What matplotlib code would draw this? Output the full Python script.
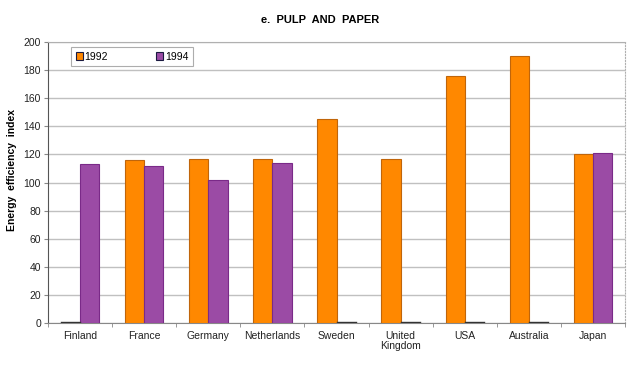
import numpy as np
import matplotlib
matplotlib.use("Agg")
from matplotlib import pyplot as plt
from matplotlib import font_manager

countries = ["Finland", "France", "Germany", "Netherlands", "Sweden",
             "United\nKingdom", "USA", "Australia", "Japan"]
vals_1992 = [0, 116, 117, 117, 145, 117, 176, 190, 120]
vals_1994 = [113, 112, 102, 114, 0, 0, 0, 0, 121]
series_names = ["1992", "1994"]
yticks = [0, 20, 40, 60, 80, 100, 120, 140, 160, 180, 200]

installed = {f.name for f in font_manager.fontManager.ttflist}
fam = "Liberation Sans Narrow" if "Liberation Sans Narrow" in installed else "Liberation Sans"
plt.rcParams['font.family'] = [fam, 'DejaVu Sans']

orange = "#ff8800"
purple = "#9b4ba5"

fig = plt.figure(figsize=(6.4, 3.72), dpi=100)
ax = fig.add_axes([0.075, 0.1317, 0.9016, 0.7553])

x = np.arange(len(countries))
w = 0.3
v92 = np.array(vals_1992, dtype=float)
v94 = np.array(vals_1994, dtype=float)
ax.bar(x - w / 2, v92, w, color=orange, edgecolor="#c0650a", linewidth=0.8,
       label=series_names[0], zorder=3)
ax.bar(x + w / 2, v94, w, color=purple, edgecolor="#7a2a88", linewidth=0.8,
       label=series_names[1], zorder=3)
# empty values show as a thin dark line on the base
for xi, a, b in zip(x, v92, v94):
    if a == 0:
        ax.plot([xi - w, xi], [0.4, 0.4], color="#333333", lw=1, zorder=4)
    if b == 0:
        ax.plot([xi, xi + w], [0.4, 0.4], color="#333333", lw=1, zorder=4)

ax.set_xlim(-0.5, len(countries) - 0.5)
ax.set_ylim(0, 200)
ax.set_yticks(yticks)
ax.yaxis.grid(True, color="#c0c0c0", linewidth=1, zorder=0)
ax.set_xticks(x)
ax.set_xticklabels(countries, fontsize=7.5, color="#222222", linespacing=0.9)
ax.set_xticks(np.arange(len(countries) + 1) - 0.5, minor=True)
ax.tick_params(axis="x", which="major", length=0, pad=6)
ax.tick_params(axis="x", which="minor", length=3, color="#888888")
ax.tick_params(axis="y", length=3, color="#888888", labelsize=7.5,
               labelcolor="#222222", pad=2)

ax.spines["top"].set_color("#b0b0b0")
ax.spines["right"].set_color("#b0b0b0")
ax.spines["right"].set_linestyle(":")
ax.spines["left"].set_color("#555555")
ax.spines["bottom"].set_color("#888888")

ax.set_ylabel("Energy  efficiency  index", fontsize=7.5, fontweight="bold")
ax.yaxis.set_label_coords(-0.054, 0.545)
fig.text(0.5, 0.945, "e.  PULP  AND  PAPER", ha="center", va="center",
         fontsize=8, fontweight="bold")

leg = ax.legend(loc="upper left", bbox_to_anchor=(0.04, 0.982), ncol=2,
                fontsize=7.5, frameon=True, fancybox=False, handlelength=0.7,
                handleheight=0.7, columnspacing=4.6, handletextpad=0.15,
                borderpad=0.45, borderaxespad=0)
leg.get_frame().set_edgecolor("#999999")
leg.get_frame().set_linewidth(0.8)
for h in leg.legend_handles:
    h.set_edgecolor("#1a1a40")

fig.savefig("out.png", dpi=100)
